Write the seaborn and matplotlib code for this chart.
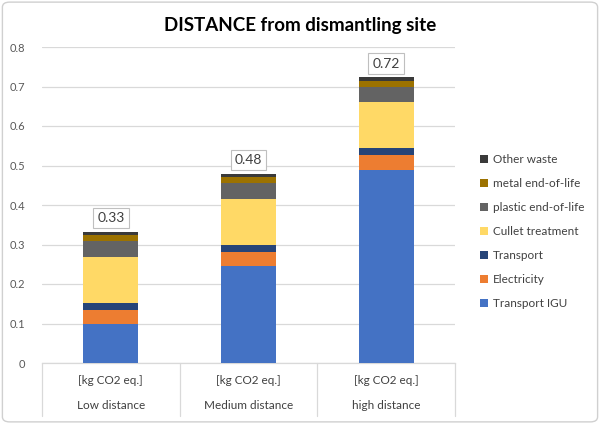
import matplotlib
matplotlib.use("Agg")
import matplotlib.pyplot as plt
from matplotlib.patches import FancyBboxPatch, Patch
from matplotlib import transforms
import seaborn as sns
import numpy as np
import pandas as pd

scenarios = ["Low distance", "Medium distance", "high distance"]
unit_label = "[kg CO2 eq.]"

# stack components, bottom to top
transport_igu = [0.098, 0.245, 0.489]
electricity = [0.037, 0.037, 0.037]
transport = [0.018, 0.018, 0.018]
cullet_treatment = [0.116, 0.116, 0.116]
plastic_eol = [0.040, 0.040, 0.040]
metal_eol = [0.015, 0.015, 0.015]
other_waste = [0.008, 0.008, 0.008]

series = [
    ("Transport IGU", transport_igu, "#4472C4"),
    ("Electricity", electricity, "#ED7D31"),
    ("Transport", transport, "#264478"),
    ("Cullet treatment", cullet_treatment, "#FFD966"),
    ("plastic end-of-life", plastic_eol, "#636363"),
    ("metal end-of-life", metal_eol, "#9C7200"),
    ("Other waste", other_waste, "#3A3A3A"),
]

sns.set_theme(style="white")
plt.rcParams["font.family"] = ["Lato", "DejaVu Sans"]

fig = plt.figure(figsize=(6, 4.24), dpi=100)
ax = fig.add_axes([42 / 600, 1 - 363 / 424, (455 - 42) / 600, (363 - 47) / 424])

# cumulative tops, drawn from the tallest down so the smaller ones sit in front
cum = np.cumsum(np.array([s[1] for s in series]), axis=0)
for i in range(len(series) - 1, -1, -1):
    df = pd.DataFrame({"scenario": scenarios, "value": cum[i]})
    sns.barplot(data=df, x="scenario", y="value", color=series[i][2],
                width=0.4, saturation=1, ax=ax, linewidth=0, zorder=3)

totals = cum[-1]
for xi, t in enumerate(totals):
    ax.annotate(f"{t:.2f}", (xi, t), xytext=(0, 10), textcoords="offset points",
                ha="center", va="center", fontsize=10, color="#404040",
                bbox=dict(boxstyle="square,pad=0.3", fc="white", ec="#BFBFBF", lw=0.8),
                zorder=5)

ax.set_ylim(0, 0.8)
ax.set_xlim(-0.5, 2.5)
ax.set_yticks(np.arange(0, 0.81, 0.1))
ax.set_yticklabels(["0"] + [f"{v:.1f}" for v in np.arange(0.1, 0.81, 0.1)])
ax.tick_params(axis="y", length=0, pad=12, labelsize=8, labelcolor="#595959")
ax.yaxis.grid(True, color="#D9D9D9", linewidth=0.9, zorder=0)
ax.set_axisbelow(True)
ax.set_xlabel("")
ax.set_ylabel("")
for s in ["top", "right", "left"]:
    ax.spines[s].set_visible(False)
ax.spines["bottom"].set_color("#D9D9D9")
ax.spines["bottom"].set_linewidth(0.9)

ax.set_xticks(range(len(scenarios)))
ax.set_xticklabels([unit_label] * len(scenarios))
ax.tick_params(axis="x", length=0, pad=9, labelsize=8.5, labelcolor="#404040")
trans = transforms.blended_transform_factory(ax.transData, ax.transAxes)
for xi, name in enumerate(scenarios):
    ax.text(xi, -0.133, name, transform=trans, ha="center", va="center",
            fontsize=8.5, color="#404040")
for xb in [-0.5, 0.5, 1.5, 2.5]:
    ax.plot([xb, xb], [0, -0.168], transform=trans, color="#D9D9D9",
            lw=0.9, clip_on=False)

handles = [Patch(facecolor=c, edgecolor="none") for _, _, c in series][::-1]
labels = [n for n, _, _ in series][::-1]
fig.legend(handles, labels, loc="upper left", bbox_to_anchor=(474 / 600, 1 - 148 / 424),
           frameon=False, fontsize=8.5, handlelength=0.7, handleheight=0.7,
           handletextpad=0.4, labelspacing=1.1, borderpad=0, labelcolor="#404040")

fig.text(0.5, 1 - 26 / 424, "DISTANCE from dismantling site", ha="center", va="center",
         fontsize=13.5, fontweight="bold", color="black")

fig.patches.append(FancyBboxPatch((0.004, 0.005), 0.992, 0.99,
                                  boxstyle="round,pad=0,rounding_size=0.012",
                                  transform=fig.transFigure, fc="none",
                                  ec="#D0D0D0", lw=1.0))

fig.savefig("out.png", dpi=100)
